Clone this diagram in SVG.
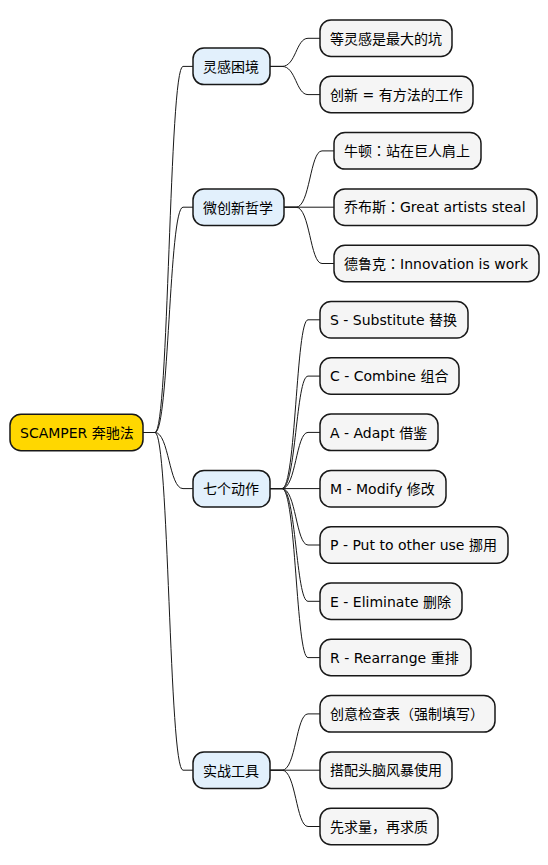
<svg xmlns="http://www.w3.org/2000/svg" width="548" height="865" viewBox="0 0 548 865">
<style>
.n rect{stroke:#181818;stroke-width:1.5}
.root rect{fill:#FFD700}
.l1 rect{fill:#E2F0FC}
.lf rect{fill:#F5F5F5}
text{font-family:"DejaVu Sans","Noto Sans CJK SC",sans-serif;font-size:14px;fill:#000}
.jp{font-family:"Noto Sans CJK JP",sans-serif}
.edges path{fill:none;stroke:#181818;stroke-width:1}
</style>
<rect width="548" height="865" fill="#FFFFFF"/>
<g class="edges" id="connectors">
<path d="M143,432.5 H155 C169,432.5 169,66.4 183,66.4 H193"/>
<path d="M143,432.5 H155 C169,432.5 169,207.2 183,207.2 H193"/>
<path d="M143,432.5 H155 C169,432.5 169,488.6 183,488.6 H193"/>
<path d="M143,432.5 H155 C169,432.5 169,770.2 183,770.2 H193"/>
<path d="M270,66.4 H282 C296,66.4 296,38.3 308,38.3 H320"/>
<path d="M270,66.4 H282 C296,66.4 296,94.6 308,94.6 H320"/>
<path d="M284,207.2 H296 C310,207.2 310,150.9 322,150.9 H334"/>
<path d="M284,207.2 H334"/>
<path d="M284,207.2 H296 C310,207.2 310,263.5 322,263.5 H334"/>
<path d="M270,488.6 H282 C296,488.6 296,319.8 308,319.8 H320"/>
<path d="M270,488.6 H282 C296,488.6 296,376.1 308,376.1 H320"/>
<path d="M270,488.6 H282 C296,488.6 296,432.4 308,432.4 H320"/>
<path d="M270,488.6 H320"/>
<path d="M270,488.6 H282 C296,488.6 296,545 308,545 H320"/>
<path d="M270,488.6 H282 C296,488.6 296,601.3 308,601.3 H320"/>
<path d="M270,488.6 H282 C296,488.6 296,657.6 308,657.6 H320"/>
<path d="M270,770.2 H282 C296,770.2 296,713.9 308,713.9 H320"/>
<path d="M270,770.2 H320"/>
<path d="M270,770.2 H282 C296,770.2 296,826.5 308,826.5 H320"/>
</g>
<g id="root" class="n root"><rect x="10" y="414.2" width="133" height="36.5" rx="11"/><text x="20" y="437.7">SCAMPER 奔驰法</text></g>
<g id="n-linggan" class="n l1"><rect x="193" y="48.1" width="77" height="36.5" rx="11"/><text x="203" y="71.6">灵感困境</text></g>
<g id="n-weichuangxin" class="n l1"><rect x="193" y="189" width="91" height="36.5" rx="11"/><text x="203" y="212.5">微创新哲学</text></g>
<g id="n-qige" class="n l1"><rect x="193" y="470.4" width="77" height="36.5" rx="11"/><text x="203" y="493.9">七个动作</text></g>
<g id="n-shizhan" class="n l1"><rect x="193" y="752" width="77" height="36.5" rx="11"/><text x="203" y="775.5">实战工具</text></g>
<g id="l0" class="n lf"><rect x="320" y="20" width="132" height="36.5" rx="11"/><text x="330" y="43.5">等灵感是最大的坑</text></g>
<g id="l1" class="n lf"><rect x="320" y="76.3" width="153" height="36.5" rx="11"/><text x="330" y="99.8">创新 = 有方法的工作</text></g>
<g id="l2" class="n lf"><rect x="334" y="132.6" width="147" height="36.5" rx="11"/><text x="344" y="156.1">牛顿<tspan class="jp">：</tspan>站在巨人肩上</text></g>
<g id="l3" class="n lf"><rect x="334" y="188.9" width="203" height="36.5" rx="11"/><text x="344" y="212.4">乔布斯<tspan class="jp">：</tspan>Great artists steal</text></g>
<g id="l4" class="n lf"><rect x="334" y="245.2" width="205" height="36.5" rx="11"/><text x="344" y="268.7">德鲁克<tspan class="jp">：</tspan>Innovation is work</text></g>
<g id="l5" class="n lf"><rect x="320" y="301.5" width="148" height="36.5" rx="11"/><text x="330" y="325">S - Substitute 替换</text></g>
<g id="l6" class="n lf"><rect x="320" y="357.8" width="139" height="36.5" rx="11"/><text x="330" y="381.3">C - Combine 组合</text></g>
<g id="l7" class="n lf"><rect x="320" y="414.1" width="118" height="36.5" rx="11"/><text x="330" y="437.6">A - Adapt 借鉴</text></g>
<g id="l8" class="n lf"><rect x="320" y="470.4" width="126" height="36.5" rx="11"/><text x="330" y="493.9">M - Modify 修改</text></g>
<g id="l9" class="n lf"><rect x="320" y="526.7" width="188" height="36.5" rx="11"/><text x="330" y="550.2">P - Put to other use 挪用</text></g>
<g id="l10" class="n lf"><rect x="320" y="583" width="142" height="36.5" rx="11"/><text x="330" y="606.5">E - Eliminate 删除</text></g>
<g id="l11" class="n lf"><rect x="320" y="639.3" width="151" height="36.5" rx="11"/><text x="330" y="662.8">R - Rearrange 重排</text></g>
<g id="l12" class="n lf"><rect x="320" y="695.6" width="175" height="36.5" rx="11"/><text x="330" y="719.1">创意检查表（强制填写）</text></g>
<g id="l13" class="n lf"><rect x="320" y="751.9" width="132" height="36.5" rx="11"/><text x="330" y="775.4">搭配头脑风暴使用</text></g>
<g id="l14" class="n lf"><rect x="320" y="808.2" width="118" height="36.5" rx="11"/><text x="330" y="831.7">先求量，再求质</text></g>
</svg>
